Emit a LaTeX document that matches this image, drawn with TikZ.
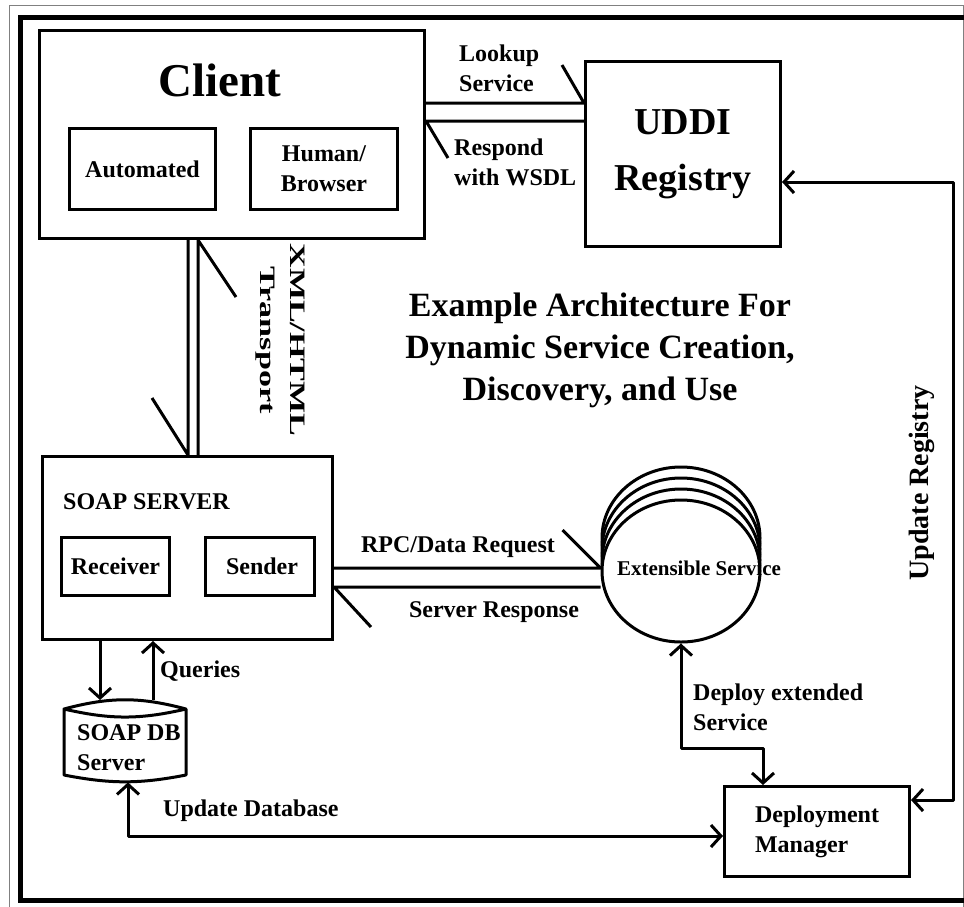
\documentclass[tikz,border=0pt]{standalone}
\usepackage{fontspec}
\setmainfont{Liberation Serif}
\usetikzlibrary{arrows.meta,shapes.geometric}

\begin{document}
\begin{tikzpicture}[x=1pt,y=-1pt,
  box/.style={draw,line width=3pt,inner sep=0pt,anchor=north west,align=center,
    font=\bfseries\fontsize{24}{30}\selectfont},
  lbl/.style={font=\bfseries\fontsize{24}{30}\selectfont,align=left,inner sep=0pt},
  wire/.style={line width=3pt,line join=round},
  tip/.style={wire,-{Straight Barb[length=10pt,width=22pt,line width=3pt]}},
  both/.style={wire,{Straight Barb[length=10pt,width=22pt,line width=3pt]}-{Straight Barb[length=10pt,width=22pt,line width=3pt]}},
  disc/.style={draw,ellipse,line width=3pt,fill=white,minimum width=158pt,minimum height=142pt}]

\useasboundingbox (0,0) rectangle (964,906);
\fill[white] (0,0) rectangle (964,906);
% frame
\draw[gray,line width=1pt] (9,5) rectangle (963,930);
\draw[line width=5pt] (20,17) rectangle (990,900);

% client side
\node[box,minimum width=385pt,minimum height=208pt] (client) at (38,29) {};
\node[font=\bfseries\fontsize{47}{56}\selectfont] (clientname) at (220,80) {Client};
\node[box,minimum width=146pt,minimum height=81pt] (auto) at (68,127) {Automated};
\node[box,minimum width=147pt,minimum height=81pt] (human) at (249,127) {Human/\\Browser};

% registry
\node[box,minimum width=195pt,minimum height=185pt,font=\bfseries\fontsize{38}{56}\selectfont] (uddi) at (584,60) {UDDI\\Registry};

% soap server
\node[box,minimum width=290pt,minimum height=183pt] (soap) at (41,455) {};
\node[lbl,anchor=west] (soapname) at (63,502) {SOAP SERVER};
\node[box,minimum width=108pt,minimum height=58pt] (recv) at (60,536) {Receiver};
\node[box,minimum width=109pt,minimum height=58pt] (send) at (204,536) {\,Sender};

% database
\draw[wire] (64,709) to[bend left=15] (186,709) to[bend left=13] (64,709) -- (64,775)
  to[bend right=11] (186,775) -- (186,709);
\node[minimum width=122pt,minimum height=82pt,inner sep=0pt,anchor=north west] (db) at (64,700) {};
\node[lbl,anchor=west,text depth=0pt] (dbname) at (77,748) {SOAP DB\\Server};

% extensible service
\foreach \dy in {33,22,11}
  \node[disc] at ({681},{571-\dy}) {};
\node[disc] (ext) at (681,571) {};
\node[font=\bfseries\fontsize{21}{25}\selectfont] (extname) at (699,568) {Extensible Service};

% deployment
\node[box,minimum width=185pt,minimum height=90pt] (dm) at (723,785) {\begin{tabular}{@{}l@{}}Deployment\\Manager\end{tabular}};

% title
\node[font=\bfseries\fontsize{34}{42}\selectfont,align=center] (title) at (600,350)
  {Example Architecture For\\Dynamic Service Creation,\\Discovery, and Use};

% connectors
\draw[wire] (client.east |- 0,103) -- (uddi.west |- 0,103) -- ++(-22,-38);
\draw[wire] (uddi.west |- 0,121) -- (client.east |- 0,121) -- ++(22,37);
\draw[wire] (client.south -| 188,0) -- (soap.north -| 188,0) -- ++(-36,-57);
\draw[wire] (soap.north -| 198,0) -- (client.south -| 198,0) -- ++(38,57);
\draw[wire] (soap.east |- 0,568) -- (ext.west |- 0,568) -- ++(-38,-38);
\draw[wire] (ext.west |- 0,587) -- (soap.east |- 0,587) -- ++(37,40);

\draw[tip] (soap.south -| 100,0) -- (db.north -| 100,0);
\draw[tip] (db.north -| 153,0) -- (soap.south -| 153,0);
\draw[both] (db.south -| 128,0) |- (dm.west |- 0,836);
\draw[both] (ext.south) |- (763,748) -- (dm.north -| 763,0);
\draw[both] (uddi.east |- 0,182) -- (953,182) -- (953,800) -- (dm.east |- 0,800);

% labels
\node[lbl,anchor=west] at (459,68) {Lookup\\Service};
\node[lbl,anchor=west] at (454,162) {Respond\\with WSDL};
\node[lbl,font=\bfseries\fontsize{22}{30}\selectfont,align=center,rotate=-90,xscale=1.55] at (280,340) {XML/HTML\\Transport};
\node[lbl] at (458,547) {RPC/Data Request};
\node[lbl] at (494,612) {Server Response};
\node[lbl,anchor=west] at (160,671) {Queries};
\node[lbl,anchor=west] at (163,811) {Update Database};
\node[lbl,anchor=west] at (693,707) {Deploy extended\\Service};
\node[lbl,font=\bfseries\fontsize{28}{30}\selectfont,rotate=90] at (922,483) {Update Registry};
\end{tikzpicture}
\end{document}
